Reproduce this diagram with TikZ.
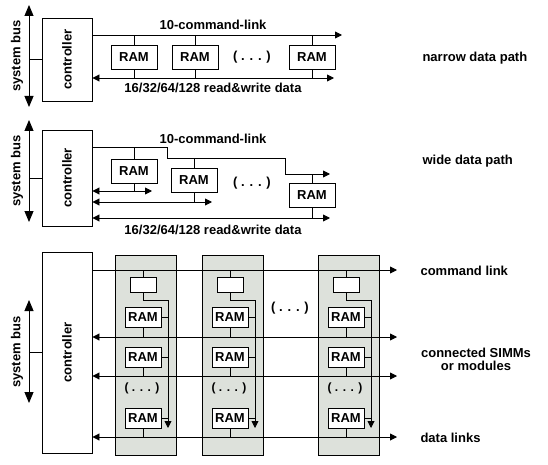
\documentclass[tikz,border=0pt]{standalone}
\usepackage{fontspec}
\setmainfont{Liberation Sans}
\usetikzlibrary{arrows.meta}
\definecolor{modgray}{RGB}{221,225,219}
\begin{document}
\begin{tikzpicture}[x=1pt,y=-1pt,
  every node/.style={font=\fontsize{13}{15}\selectfont\bfseries},
  ln/.style={line width=0.9pt},
  box/.style={draw, fill=white, inner sep=0pt, line width=0.9pt},
  ctrl/.style={box, minimum width=50pt},
  ram/.style={box, minimum width=46pt, minimum height=24pt},
  sram/.style={box, minimum width=36pt, minimum height=20pt},
  sbox/.style={box, minimum width=26pt, minimum height=15pt},
  module/.style={draw, fill=modgray, inner sep=0pt, line width=0.9pt, minimum width=61pt, minimum height=200pt},
  dots/.style={font=\fontsize{12}{14}\selectfont\bfseries},
  tip/.style={-{Triangle[length=7pt,width=7pt]}},
  tip2/.style={{Triangle[length=7pt,width=7pt]}-{Triangle[length=7pt,width=7pt]}},
  bus/.style={{Triangle[length=11pt,width=9pt]}-{Triangle[length=11pt,width=9pt]}}
]
\useasboundingbox (0,0) rectangle (548,465);

% ---------------- Section 1: narrow data path ----------------
\node[ctrl, minimum height=83pt] (c1) at (67,59.5) {};
\node[rotate=90] (c1t) at (c1) {controller};
\node[rotate=90] (sb1t) at (17,56) {system bus};
\coordinate (sb1a) at (29,5);
\coordinate (sb1b) at (29,107);
\draw[ln, bus] (sb1a) -- (sb1b);
\draw[ln] (sb1a |- c1) -- (c1.west);
\coordinate (k1) at (342,35);
\coordinate (d1) at (334,78);
\draw[ln, tip] (c1.east |- k1) -- (k1);
\draw[ln, tip2] (c1.east |- d1) -- (d1);
\node[ram] (r11) at (134,57.5) {RAM};
\node[ram] (r12) at (195,57.5) {RAM};
\node[ram] (r13) at (312,57.5) {RAM};
\foreach \r in {r11,r12,r13}{
  \draw[ln] (\r.north) -- (\r.north |- k1);
  \draw[ln] (\r.south) -- (\r.south |- d1);
}
\node (e1) at (252,57) {( . . . )};
\node (k1t) at (213,25) {10-command-link};
\node (d1t) at (213,88) {16/32/64/128 read\&write data};
\node[anchor=west] (n1) at (419,58) {narrow data path};

% ---------------- Section 2: wide data path ----------------
\node[ctrl, minimum height=96pt] (c2) at (67,178) {};
\node[rotate=90] (c2t) at (c2) {controller};
\node[rotate=90] (sb2t) at (17,171) {system bus};
\coordinate (sb2a) at (29,120);
\coordinate (sb2b) at (29,222);
\draw[ln, bus] (sb2a) -- (sb2b);
\draw[ln] (sb2a |- c2) -- (c2.west);
\coordinate (k2a) at (167,147);
\coordinate (k2b) at (285,158);
\coordinate (k2c) at (330,174);
\draw[ln, tip] (c2.east |- k2a) -- (k2a) |- (k2b) |- (k2c);
\node[ram] (r21) at (134,171) {RAM};
\node[ram] (r22) at (194,180) {RAM};
\node[ram] (r23) at (312,195) {RAM};
\coordinate (d21) at (152,191);
\coordinate (d22) at (212,202);
\coordinate (d23) at (330,218);
\draw[ln, tip2] (c2.east |- d21) -- (d21);
\draw[ln, tip2] (c2.east |- d22) -- (d22);
\draw[ln, tip2] (c2.east |- d23) -- (d23);
\draw[ln] (r21.north) -- (r21.north |- k2a);
\draw[ln] (r22.north) -- (r22.north |- k2b);
\draw[ln] (r23.north) -- (r23.north |- k2c);
\draw[ln] (r21.south) -- (r21.south |- d21);
\draw[ln] (r22.south) -- (r22.south |- d22);
\draw[ln] (r23.south) -- (r23.south |- d23);
\node (e2) at (252,183) {( . . . )};
\node (k2t) at (213,139) {10-command-link};
\node (d2t) at (213,230) {16/32/64/128 read\&write data};
\node[anchor=west] (n2) at (419,161) {wide data path};

% ---------------- Section 3: connected modules ----------------
\node[ctrl, minimum height=201pt] (c3) at (67,352.5) {};
\node[rotate=90] (c3t) at (c3) {controller};
\node[rotate=90] (sb3t) at (17,352) {system bus};
\coordinate (sb3a) at (29,300);
\coordinate (sb3b) at (29,403);
\draw[ln, bus] (sb3a) -- (sb3b);
\draw[ln] (sb3a |- c3) -- (c3.west);

\foreach \i/\dx in {1/0,2/87,3/203}{
  \node[module] (m\i) at (145.5+\dx,355) {};
}
\coordinate (k3) at (397,270);
\coordinate (d31) at (397,337);
\coordinate (d32) at (397,376);
\coordinate (d33) at (397,437);
\draw[ln, tip] (c3.east |- k3) -- (k3);
\draw[ln, tip2] (c3.east |- d31) -- (d31);
\draw[ln, tip2] (c3.east |- d32) -- (d32);
\draw[ln, tip2] (c3.east |- d33) -- (d33);

\foreach \i/\dx in {1/0,2/87,3/203}{
  \node[sbox] (s\i) at (143+\dx,284.5) {};
  \node[sram] (ra\i) at (143+\dx,317) {RAM};
  \node[sram] (rb\i) at (143+\dx,357) {RAM};
  \node[sram] (rc\i) at (143+\dx,418) {RAM};
  \node[dots] (e3\i) at (142+\dx,388) {( . . . )};
  \coordinate (vt\i) at (168+\dx,300);
  \coordinate (vb\i) at (168+\dx,428);
  \draw[ln] (s\i.north) -- (s\i.north |- k3);
  \draw[ln, tip] (s\i.south) |- (vt\i) -- (vb\i);
  \draw[ln] (ra\i.east) -- (ra\i.east -| vt\i);
  \draw[ln] (rb\i.east) -- (rb\i.east -| vt\i);
  \draw[ln] (rc\i.east) -- (rc\i.east -| vt\i);
  \draw[ln] (ra\i.south) -- (ra\i.south |- d31);
  \draw[ln] (rb\i.south) -- (rb\i.south |- d32);
  \draw[ln] (rc\i.south) -- (rc\i.south |- d33);
}
\node (e3) at (290,308) {( . . . )};
\node[anchor=west] (n3a) at (417,271) {command link};
\node[align=center, font=\fontsize{13}{13}\selectfont\bfseries] (n3b) at (476,359) {connected SIMMs\\or modules};
\node[anchor=west] (n3c) at (417,438) {data links};
\end{tikzpicture}
\end{document}
